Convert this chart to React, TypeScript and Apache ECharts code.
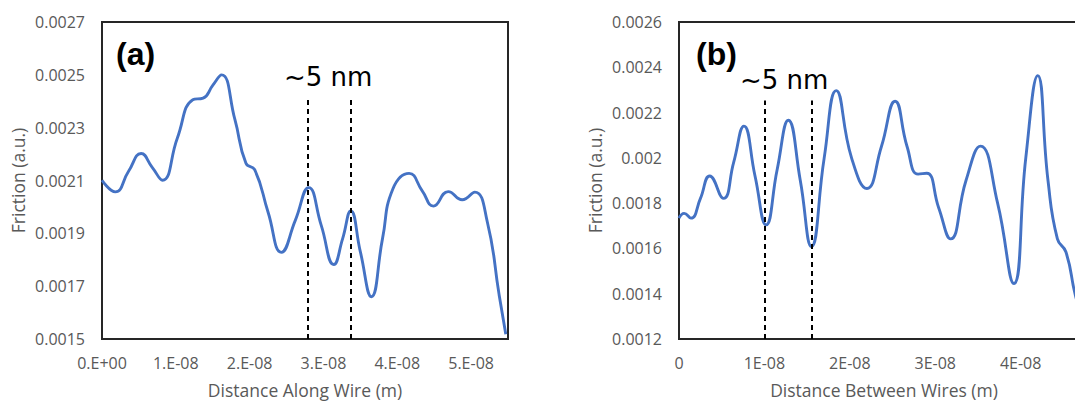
import React, { useEffect, useRef } from "react";
import * as echarts from "echarts";

// Panel (a): friction along a wire
const A_X = [0.0, 0.18e-8, 0.36e-8, 0.53e-8, 0.68e-8, 0.82e-8, 1.02e-8, 1.23e-8, 1.37e-8, 1.5e-8, 1.62e-8, 1.8e-8, 1.95e-8, 2.07e-8, 2.25e-8, 2.43e-8, 2.62e-8, 2.8e-8, 2.97e-8, 3.14e-8, 3.26e-8, 3.37e-8, 3.5e-8, 3.65e-8, 3.8e-8, 3.94e-8, 4.16e-8, 4.34e-8, 4.49e-8, 4.69e-8, 4.88e-8, 5.05e-8, 5.22e-8, 5.38e-8, 5.47e-8];
const A_Y = [0.002101, 0.002057, 0.002135, 0.002202, 0.00215, 0.002101, 0.00226, 0.002406, 0.002412, 0.00246, 0.0025, 0.002331, 0.002165, 0.00214, 0.00198, 0.001828, 0.00195, 0.002073, 0.00193, 0.001782, 0.00188, 0.001985, 0.00183, 0.00166, 0.00188, 0.002068, 0.002127, 0.00206, 0.002003, 0.002058, 0.002027, 0.002056, 0.001943, 0.001667, 0.001518];

// Panel (b): friction between wires
const B_X = [0.0, 0.06e-8, 0.14e-8, 0.25e-8, 0.36e-8, 0.52e-8, 0.64e-8, 0.76e-8, 0.89e-8, 1.02e-8, 1.15e-8, 1.28e-8, 1.42e-8, 1.55e-8, 1.7e-8, 1.84e-8, 2.02e-8, 2.2e-8, 2.37e-8, 2.53e-8, 2.67e-8, 2.8e-8, 2.9e-8, 3.04e-8, 3.18e-8, 3.36e-8, 3.53e-8, 3.73e-8, 3.92e-8, 4.06e-8, 4.2e-8, 4.32e-8, 4.43e-8, 4.53e-8, 4.64e-8, 4.78e-8];
const B_Y = [0.001734, 0.001755, 0.001734, 0.00182, 0.00192, 0.001821, 0.00198, 0.00214, 0.00192, 0.001704, 0.00195, 0.002166, 0.0019, 0.001608, 0.002, 0.002297, 0.002, 0.001865, 0.00205, 0.00225, 0.00205, 0.001928, 0.001932, 0.00178, 0.001642, 0.0019, 0.002052, 0.0018, 0.001445, 0.002, 0.002363, 0.0019, 0.001642, 0.001584, 0.001394, 0.00121];

// Dashed "~5 nm" markers
const A_DASH_X = [2.79e-8, 3.37e-8];
const A_DASH_TOP = 0.002414;
const B_DASH_X = [1.0e-8, 1.55e-8];
const B_DASH_TOP = 0.002253;

// Axis ranges / ticks
const A_Y_TICKS = [0.0015, 0.0017, 0.0019, 0.0021, 0.0023, 0.0025, 0.0027];
const B_Y_TICKS = [0.0012, 0.0014, 0.0016, 0.0018, 0.002, 0.0022, 0.0024, 0.0026];
const A_X_MAX = 5.5e-8;
const B_X_MAX = 4.8e-8;
const X_STEP = 1e-8;

const AXIS_FONT = "'Open Sans', Lato, sans-serif";
const LABEL_COLOR = "#595959";
const LINE_COLOR = "#4472C4";

function xLabel(v: number, style: "a" | "b"): string {
  const k = Math.round(v / X_STEP);
  if (Math.abs(v - k * X_STEP) > X_STEP * 1e-3) return "";
  if (style === "a") return k === 0 ? "0.E+00" : `${k}.E-08`;
  return k === 0 ? "0" : `${k}E-08`;
}

function yTickLabel(ticks: number[], v: number): string {
  const t = ticks[Math.round(v)];
  if (t === undefined) return "";
  return String(parseFloat(t.toFixed(4)));
}

export default function App() {
  const ref = useRef<HTMLDivElement>(null);

  useEffect(() => {
    if (!ref.current) return;
    const chart = echarts.init(ref.current, undefined, { renderer: "svg" });

    const aData = A_X.map((x, i) => [x, A_Y[i]]);
    const bData = B_X.map((x, i) => [x, B_Y[i]]);

    const axisLabelBase = { color: LABEL_COLOR, fontFamily: AXIS_FONT, fontSize: 16 };
    const nameBase = { color: LABEL_COLOR, fontFamily: AXIS_FONT, fontSize: 17.5 };

    const dashStyle = { type: [5, 4] as any, color: "#000", width: 2 };

    const option: any = {
      animation: false,
      backgroundColor: "#fff",
      grid: [
        { left: 102, top: 22, width: 406, height: 319, show: true, borderColor: "#262626", borderWidth: 2, backgroundColor: "transparent" },
        { left: 679, top: 22, width: 410, height: 319, show: true, borderColor: "#262626", borderWidth: 2, backgroundColor: "transparent" },
      ],
      xAxis: [
        {
          gridIndex: 0, type: "value", min: 0, max: A_X_MAX, interval: X_STEP,
          axisLine: { show: false }, axisTick: { show: false }, splitLine: { show: false },
          axisLabel: { ...axisLabelBase, margin: 16, formatter: (v: number) => xLabel(v, "a") },
          name: "Distance Along Wire (m)", nameLocation: "middle", nameGap: 42, nameTextStyle: nameBase,
        },
        {
          gridIndex: 1, type: "value", min: 0, max: B_X_MAX, interval: X_STEP,
          axisLine: { show: false }, axisTick: { show: false }, splitLine: { show: false },
          axisLabel: { ...axisLabelBase, margin: 16, formatter: (v: number) => xLabel(v, "b") },
          name: "Distance Between Wires (m)", nameLocation: "middle", nameGap: 42, nameTextStyle: nameBase,
        },
      ],
      yAxis: [
        { gridIndex: 0, type: "value", min: A_Y_TICKS[0], max: A_Y_TICKS[A_Y_TICKS.length - 1], show: false, position: "left" },
        {
          gridIndex: 0, type: "value", min: 0, max: A_Y_TICKS.length - 1, interval: 1, position: "left",
          axisLine: { show: false }, axisTick: { show: false }, splitLine: { show: false },
          axisLabel: { ...axisLabelBase, margin: 17, formatter: (v: number) => yTickLabel(A_Y_TICKS, v) },
          name: "Friction (a.u.)", nameLocation: "middle", nameGap: 75, nameTextStyle: nameBase,
        },
        { gridIndex: 1, type: "value", min: B_Y_TICKS[0], max: B_Y_TICKS[B_Y_TICKS.length - 1], show: false, position: "left" },
        {
          gridIndex: 1, type: "value", min: 0, max: B_Y_TICKS.length - 1, interval: 1, position: "left",
          axisLine: { show: false }, axisTick: { show: false }, splitLine: { show: false },
          axisLabel: { ...axisLabelBase, margin: 17, formatter: (v: number) => yTickLabel(B_Y_TICKS, v) },
          name: "Friction (a.u.)", nameLocation: "middle", nameGap: 75, nameTextStyle: nameBase,
        },
      ],
      series: [
        {
          type: "line", xAxisIndex: 0, yAxisIndex: 0, data: aData, smooth: 0.5, showSymbol: false,
          lineStyle: { color: LINE_COLOR, width: 2.9 }, clip: true,
          markLine: {
            silent: true, symbol: ["none", "none"], label: { show: false }, lineStyle: dashStyle,
            data: A_DASH_X.map((x) => [{ coord: [x, A_Y_TICKS[0]] }, { coord: [x, A_DASH_TOP] }]),
          },
        },
        {
          type: "line", xAxisIndex: 1, yAxisIndex: 2, data: bData, smooth: 0.5, showSymbol: false,
          lineStyle: { color: LINE_COLOR, width: 2.9 }, clip: true,
          markLine: {
            silent: true, symbol: ["none", "none"], label: { show: false }, lineStyle: dashStyle,
            data: B_DASH_X.map((x) => [{ coord: [x, B_Y_TICKS[0]] }, { coord: [x, B_DASH_TOP] }]),
          },
        },
      ],
      graphic: [
        { type: "text", left: 116, top: 38, style: { text: "(a)", font: "bold 32px 'Liberation Sans', Arial, sans-serif", fill: "#000" } },
        { type: "text", left: 284, top: 64, style: { text: "~5 nm", font: "26px 'DejaVu Sans', sans-serif", fill: "#000" } },
        { type: "text", left: 696, top: 38, style: { text: "(b)", font: "bold 32px 'Liberation Sans', Arial, sans-serif", fill: "#000" } },
        { type: "text", left: 740, top: 67, style: { text: "~5 nm", font: "26px 'DejaVu Sans', sans-serif", fill: "#000" } },
      ],
    };

    chart.setOption(option);
    return () => chart.dispose();
  }, []);

  return (
    <div style={{ position: "fixed", left: 0, top: 0, width: 1075, height: 404, overflow: "hidden", background: "#fff" }}>
      <div ref={ref} style={{ width: 1140, height: 404 }} />
    </div>
  );
}
